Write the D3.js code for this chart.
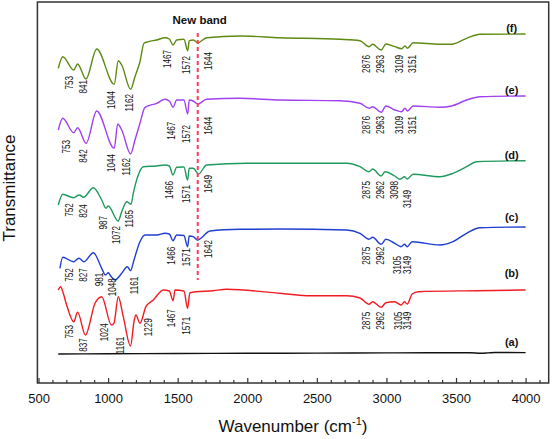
<!DOCTYPE html>
<html><head><meta charset="utf-8">
<script src="https://cdn.jsdelivr.net/npm/d3@7"></script>
<style>
body{margin:0;background:#fff;}
svg{display:block;font-family:"Liberation Sans",Arial,sans-serif;}
</style></head>
<body>
<svg id="chart" width="556" height="439"></svg>
<script>
// ---------- data (wavenumber cm-1, transmittance offset a.u.) ----------
const seriesNames = ["(a)","(b)","(c)","(d)","(e)","(f)"];
const seriesColors = ["#111111","#f01c24","#1f3fd0","#1f9a5c","#a040f0","#5e8a14"];

const specA = [[642,29],[1000,29.2],[1500,29.5],[2000,29.7],[2500,29.9],[3000,30.1],[3300,30.3],[3600,30.3],[3680,29.8],[3730,30.1],[3780,30.5],[4000,30.4]];
const specB = [[642,93],[659,96.3],[678,89.7],[702,78],[753,61.3],[781,70.7],[837,48],[906,79.7],[954,86.3],[1024,58],[1042,59.7],[1073,86.3],[1109,66.3],[1161,37],[1188,63],[1200,68],[1229,59.7],[1272,76.3],[1325,83],[1397,93],[1440,92],[1467,82.3],[1481,93],[1545,92],[1571,74.7],[1588,90.3],[1756,92.3],[1852,93.7],[2235,89.7],[2427,87.3],[2714,87.3],[2810,85],[2875,78.7],[2901,81.3],[2962,75.7],[2996,80.3],[3060,81.3],[3105,78],[3130,81.3],[3149,79],[3185,89],[3230,91.3],[3650,92.3],[4000,93]];
const specC = [[654,114.7],[674,125.7],[752,121.3],[790,124.7],[827,121.3],[894,130.3],[954,114.7],[981,108],[1001,110.3],[1019,107],[1048,103],[1098,109.7],[1138,116.3],[1161,112.3],[1186,123],[1229,141.3],[1265,148],[1349,148],[1409,149.7],[1440,149],[1466,142.3],[1493,148],[1545,147.5],[1571,136.3],[1583,147],[1612,146.3],[1642,143],[1732,152],[1948,153.7],[2235,154],[2714,153],[2810,149.7],[2875,143.7],[2901,145.7],[2962,138.7],[2996,143.7],[3060,139.7],[3105,136.3],[3130,138.7],[3149,136.3],[3185,141.3],[3384,138],[3478,141.3],[3576,149.7],[3672,155.3],[4000,156]];
const specD = [[642,178],[674,188.7],[752,185.3],[793,188],[824,185.7],[894,195.3],[954,183],[985,174.7],[1001,177],[1072,162],[1098,171.3],[1134,181.3],[1165,178.7],[1181,189.7],[1217,208],[1253,216.3],[1349,217],[1409,218],[1440,217],[1466,208],[1493,215.7],[1545,216],[1571,203],[1583,214.7],[1612,214.7],[1649,209],[1708,218],[2000,219.7],[2714,219.7],[2810,216.3],[2875,211.3],[2901,214],[2962,207],[2990,211.3],[3060,207],[3098,203.7],[3130,206.3],[3149,204],[3192,208.7],[3384,206.3],[3478,209.7],[3576,216.3],[3648,221.3],[4000,222.3]];
const specE = [[642,253],[674,264.7],[753,250.3],[781,255.3],[842,239.7],[918,272],[1044,234.7],[1069,259],[1098,253],[1162,229],[1193,243],[1229,259.7],[1265,275.7],[1349,279.7],[1409,283.7],[1440,282],[1467,275.7],[1493,283],[1545,283],[1572,269],[1583,283],[1612,282],[1644,279],[1708,283.7],[1948,284.7],[2235,283],[2666,282.3],[2810,279.7],[2876,274.7],[2901,276.3],[2963,270.7],[2996,277],[3061,273],[3109,271.3],[3133,274.7],[3151,272],[3192,277],[3384,275.7],[3468,277],[3576,283],[3672,286.3],[4000,287]];
const specF = [[642,314.7],[674,326.3],[753,313],[781,319],[841,304],[918,334],[1044,298.7],[1073,322.3],[1098,318],[1162,293.7],[1193,306.3],[1229,321.3],[1258,339.7],[1289,341.3],[1349,343],[1409,345.3],[1440,344],[1467,338],[1493,343],[1545,343.7],[1572,332.3],[1583,342.3],[1612,343],[1644,340.3],[1708,345.3],[1948,347],[2235,345.3],[2666,343.7],[2810,342.3],[2876,336.3],[2901,338.7],[2963,333],[2996,339],[3061,336.3],[3109,334.3],[3133,337],[3151,334.7],[3192,340.3],[3384,338.7],[3468,338.7],[3576,344.7],[3672,348.7],[4000,349]];

// band labels: [text, wavenumber of label, transmittance level of label top]
const peaksB = [["753",721,58],["837",822,44.7],["1024",973,59.7],["1161",1085,46.3],["1229",1284,64.7],["1467",1452,73.7],["1571",1557,66.3],["2875",2853,71.3],["2962",2953,71.3],["3105",3085,71.3],["3149",3149,71.3]];
const peaksC = [["752",721,114.7],["827",822,114.7],["981",937,110.3],["1048",1026,104.7],["1161",1186,106.3],["1466",1452,136.3],["1571",1557,134.7],["1642",1720,143],["2875",2853,136.3],["2962",2953,136.3],["3105",3078,127],["3149",3145,127]];
const peaksD = [["752",721,179.7],["824",822,178.7],["987",965,167],["1072",1057,157],["1165",1152,173],["1466",1440,202],["1571",1557,198],["1649",1720,208],["2875",2853,202],["2962",2953,202],["3098",3056,202],["3149",3145,193]];
const peaksE = [["753",698,243],["842",822,233.7],["1044",1021,229],["1162",1129,225],["1467",1452,261.3],["1572",1557,258],["1644",1720,266.3],["2876",2853,267],["2963",2953,267],["3109",3092,267],["3151",3188,267]];
const peaksF = [["753",721,307],["841",822,303],["1044",1021,292],["1162",1152,289],["1467",1421,333],["1572",1557,327],["1644",1720,331],["2876",2853,328],["2963",2953,328],["3109",3092,328],["3151",3188,328]];

// series tag levels (transmittance at tag baseline), tag wavenumber
const tagLevels = [37.5,106,162.5,224.5,289,351.5];
const tagWn = 3900;

const majorTicks = [500,1000,1500,2000,2500,3000,3500,4000];
const minorTicks = d3.range(600,4200,100).filter(v=>v%500!==0);
const newBandWn = 1644;
const newBandRange = [103, 350];

// ---------- drawing ----------
const svg = d3.select("#chart");
const x = d3.scaleLinear().domain([492,4166]).range([37.4,548.7]);
const y = d3.scaleLinear().domain([0,381]).range([383,2]);

const spectra = [specA,specB,specC,specD,specE,specF];
const peaks = [[],peaksB,peaksC,peaksD,peaksE,peaksF];

const line = d3.line().x(d=>x(d[0])).y(d=>y(d[1])).curve(d3.curveMonotoneX);

spectra.forEach((s,i)=>{
  svg.append("path").datum(s).attr("d",line)
    .attr("fill","none").attr("stroke",seriesColors[i]).attr("stroke-width",1.4)
    .attr("stroke-linejoin","round");
});

// red dashed line
svg.append("line")
  .attr("x1",x(newBandWn)).attr("x2",x(newBandWn))
  .attr("y1",y(newBandRange[1])).attr("y2",y(newBandRange[0]))
  .attr("stroke","#ff3a5c").attr("stroke-width",2).attr("stroke-dasharray","4,3");

svg.append("text").attr("x",x(newBandWn)+2).attr("y",24)
  .attr("text-anchor","middle").attr("font-size","11.5px").attr("font-weight","bold")
  .attr("fill","#111").text("New band");

// band labels
peaks.forEach(arr=>{
  arr.forEach(p=>{
    svg.append("text")
      .attr("transform",`translate(${x(p[1])+3.9},${y(p[2])}) rotate(-90) scale(0.74,1)`)
      .attr("text-anchor","end").attr("font-size","11px").attr("fill","#111")
      .text(p[0]);
  });
});

// series tags
seriesNames.forEach((n,i)=>{
  svg.append("text").attr("x",x(tagWn)).attr("y",y(tagLevels[i]))
    .attr("text-anchor","middle").attr("font-size","11px").attr("font-weight","bold")
    .attr("fill","#111").text(n);
});

// frame
svg.append("rect").attr("x",37.4).attr("y",2).attr("width",548.7-37.4).attr("height",381)
  .attr("fill","none").attr("stroke","#333").attr("stroke-width",1.5);

// axes
const axMajor = d3.axisBottom(x).tickValues(majorTicks).tickSize(-5).tickPadding(11).tickFormat(d3.format("d"));
const gMaj = svg.append("g").attr("transform","translate(0,383)").call(axMajor);
gMaj.select(".domain").remove();
gMaj.selectAll("line").attr("stroke","#333").attr("stroke-width",1.2);
gMaj.selectAll("text").attr("font-size","13px").attr("fill","#111")
  .attr("font-family","'Liberation Sans',Arial,sans-serif");

const axMinor = d3.axisBottom(x).tickValues(minorTicks).tickSize(-3).tickFormat("");
const gMin = svg.append("g").attr("transform","translate(0,383)").call(axMinor);
gMin.select(".domain").remove();
gMin.selectAll("line").attr("stroke","#333").attr("stroke-width",1.2);

// axis titles
const xt = svg.append("text").attr("x",293).attr("y",432).attr("text-anchor","middle")
  .attr("font-size","17px").attr("fill","#111");
xt.append("tspan").text("Wavenumber (cm");
xt.append("tspan").attr("dy",-7).attr("font-size","11px").text("-1");
xt.append("tspan").attr("dy",7).text(")");

svg.append("text").attr("transform","translate(15,188) rotate(-90)")
  .attr("text-anchor","middle").attr("font-size","17px").attr("fill","#111")
  .text("Transmittance");
</script>
</body></html>
